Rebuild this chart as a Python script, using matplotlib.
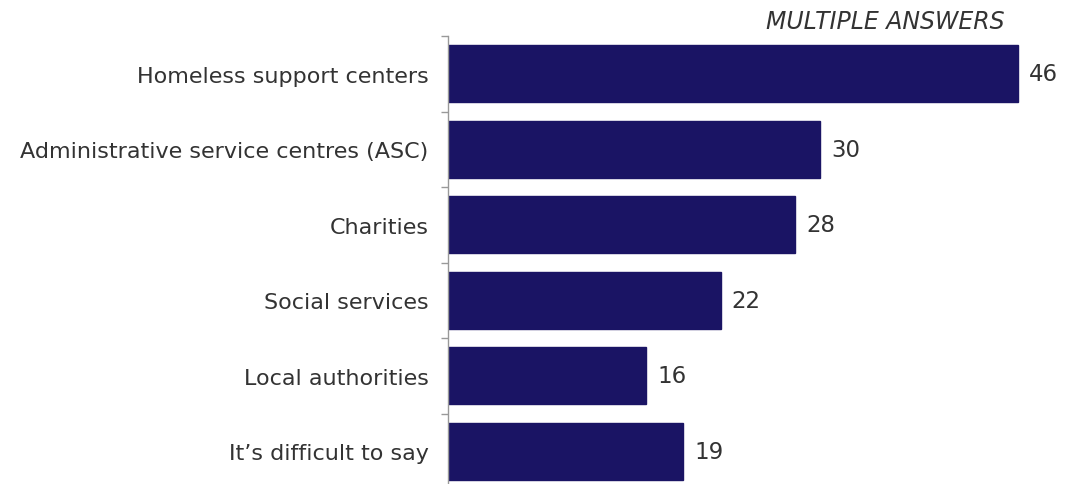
import numpy as np
import matplotlib.pyplot as plt

categories = ['Homeless support centers', 'Administrative service centres (ASC)',
              'Charities', 'Social services', 'Local authorities',
              'It\u2019s difficult to say']
values = [46, 30, 28, 22, 16, 19]

plt.rcParams['font.family'] = ['DejaVu Sans']

fig = plt.figure(figsize=(10.7, 4.85), dpi=100)
ax = fig.add_axes([448 / 1070, 1 - 490 / 485, 1 - 448 / 1070, (490 - 37) / 485])

y = np.arange(len(categories))
ax.barh(y, values, height=0.76, color='#1a1464', edgecolor='#1a1464')
ax.set_xlim(0, 50.2)
ax.set_ylim(len(categories) - 0.5, -0.5)

for yi, v in zip(y, values):
    ax.annotate(str(v), (v, yi), xytext=(8, 0), textcoords='offset points',
                va='center', ha='left', fontsize=16.5, color='#333333')

ax.set_yticks(y)
ax.set_yticklabels(categories, fontsize=16, color='#333333')
ax.tick_params(axis='y', which='major', length=0, pad=14)
ax.set_yticks(np.arange(-0.5, len(categories)), minor=True)
ax.tick_params(axis='y', which='minor', length=5, color='#999999', width=1)
ax.set_xticks([])

for s in ['top', 'right', 'bottom']:
    ax.spines[s].set_visible(False)
ax.spines['left'].set_color('#999999')
ax.spines['left'].set_linewidth(1)

fig.text(1005 / 1070, 1 - 22 / 485, 'MULTIPLE ANSWERS', ha='right', va='center',
         fontsize=17, style='italic', color='#333333')

fig.savefig('out.png', dpi=100)
